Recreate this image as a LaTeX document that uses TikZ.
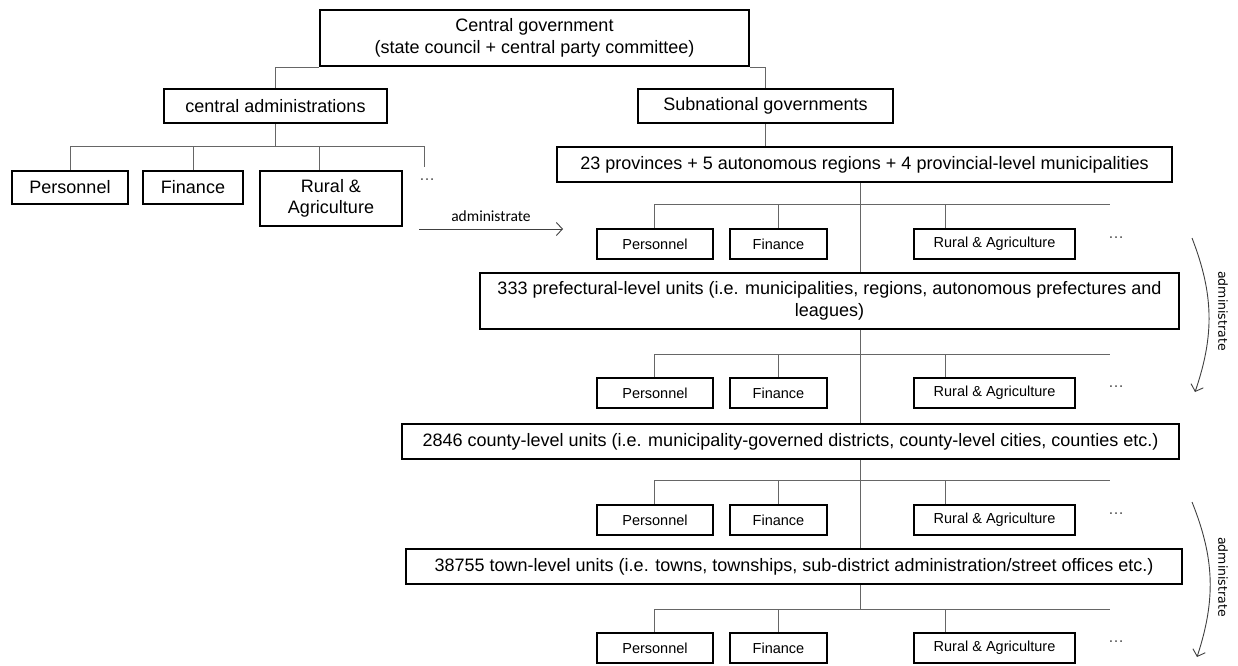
\documentclass[tikz,border=0pt]{standalone}
\usepackage{fontspec}
\setmainfont{Liberation Sans}
\newfontfamily\lblfont{Carlito}
\newfontfamily\rotfont{DejaVu Sans}
\usetikzlibrary{arrows.meta,backgrounds}
\tikzset{
  bigbox/.style={draw, line width=2.6pt, fill=white, inner sep=0pt, align=center,
    font=\fontsize{18}{21.5}\selectfont},
  midbox/.style={draw, line width=1.4pt, fill=white, inner sep=0pt, align=center,
    font=\fontsize{18}{22}\selectfont},
  smallbox/.style={draw, line width=1.6pt, fill=white, inner sep=0pt, align=center,
    minimum height=30, font=\fontsize{14.5}{16}\selectfont},
  conn/.style={draw=black!60, line width=0.9pt},
  dots/.style={text=black!70, font=\fontsize{16}{16}\selectfont, inner sep=0pt},
  admarrow/.style={draw=black!75, line width=0.9pt, -{Straight Barb[length=6pt,width=13pt]}},
}
\begin{document}
\begin{tikzpicture}[x=1pt,y=-1pt]
\useasboundingbox (0,0) rectangle (1238,665);

% top levels
\node[bigbox, minimum width=429, minimum height=56] (cg) at (534.5,38)
  {Central government\\(state council + central party committee)};
\node[midbox, minimum width=223, minimum height=34] (ca) at (275.5,106) {central administrations};
\node[midbox, minimum width=255, minimum height=34] (sg) at (765.5,106) {Subnational governments};

% left departments
\node[bigbox, line width=1.8pt, minimum width=116, minimum height=33] (lp) at (70,187.5) {Personnel};
\node[bigbox, line width=1.8pt, minimum width=100, minimum height=33] (lf) at (193,187.5) {Finance};
\node[bigbox, line width=1.8pt, minimum width=142, minimum height=55] (lr) at (331,198.5) {Rural \&\\Agriculture};
\node[dots] (ld) at (427,180) {\ldots};

% subnational levels
\node[bigbox, minimum width=615, minimum height=35] (l1) at (864.5,164.5)
  {23 provinces + 5 autonomous regions + 4 provincial-level municipalities};
\node[bigbox, minimum width=699, minimum height=56] (l2) at (829.5,301)
  {333 prefectural-level units (i.e. municipalities, regions, autonomous prefectures and\\leagues)};
\node[bigbox, minimum width=777, minimum height=35] (l3) at (790.5,441.5)
  {2846 county-level units (i.e. municipality-governed districts, county-level cities, counties etc.)};
\node[bigbox, minimum width=776, minimum height=35] (l4) at (794,566.5)
  {38755 town-level units (i.e. towns, townships, sub-district administration/street offices etc.)};

% department rows
\foreach \k/\yb/\yc in {1/204/244, 2/354/393, 3/480/520, 4/609/648}{
  \node[smallbox, minimum width=116] (p\k) at (655,\yc) {Personnel};
  \node[smallbox, minimum width=97] (f\k) at (778.5,\yc) {Finance};
  \node[smallbox, minimum width=161] (r\k) at (994.5,\yc) {Rural \& Agriculture};
  \node[dots] (d\k) at (1116,\yc-6) {\ldots};
  \coordinate (bl\k) at (654,\yb);
  \coordinate (br\k) at (1110,\yb);
  \coordinate (rd\k) at (945,\yb);
}
\coordinate (spine) at (860,0);

% left branch
\coordinate (lbl) at (70,146);
\coordinate (lbr) at (424,146);
\coordinate (lrd) at (319.5,146);
\coordinate (ldt) at (424,167);

\begin{scope}[on background layer]
  \draw[conn] (cg.south west) -| (ca.north);
  \draw[conn] (cg.south east) -| (sg.north);
  \draw[conn] (sg.south) -- (sg.south |- l1.north);
  % left tree
  \draw[conn] (ca.south) -- (ca.south |- lbl);
  \draw[conn] (lbl) -- (lbr);
  \draw[conn] (lbl) -- (lp.north);
  \draw[conn] (lf.north |- lbl) -- (lf.north);
  \draw[conn] (lrd) -- (lrd |- lr.north);
  \draw[conn] (lbr) -- (ldt);
  % spine
  \draw[conn] (spine |- l1.south) -- (spine |- bl4);
  \foreach \k in {1,2,3,4}{
    \draw[conn] (bl\k) -- (br\k);
    \draw[conn] (bl\k) -- (bl\k |- p\k.north);
    \draw[conn] (f\k.north |- bl\k) -- (f\k.north);
    \draw[conn] (rd\k) -- (rd\k |- r\k.north);
  }
\end{scope}

% administrate arrows
\coordinate (a0s) at (419,229);
\coordinate (a0e) at (563,229);
\draw[admarrow] (a0s) -- node[above=4pt, font=\lblfont\fontsize{15.5}{15.5}\selectfont, text=black] {administrate} (a0e);

\coordinate (a1s) at (1192,238);
\coordinate (a1e) at (1195,392);
\draw[admarrow] (a1s) to[bend left=20] (a1e);
\node[rotate=-90, font=\rotfont\fontsize{12.5}{12.5}\selectfont] (t1) at (1223,311) {administrate};

\coordinate (a2s) at (1192,502);
\coordinate (a2e) at (1197,657);
\draw[admarrow] (a2s) to[bend left=20] (a2e);
\node[rotate=-90, font=\rotfont\fontsize{12.5}{12.5}\selectfont] (t2) at (1223,577) {administrate};
\end{tikzpicture}
\end{document}
